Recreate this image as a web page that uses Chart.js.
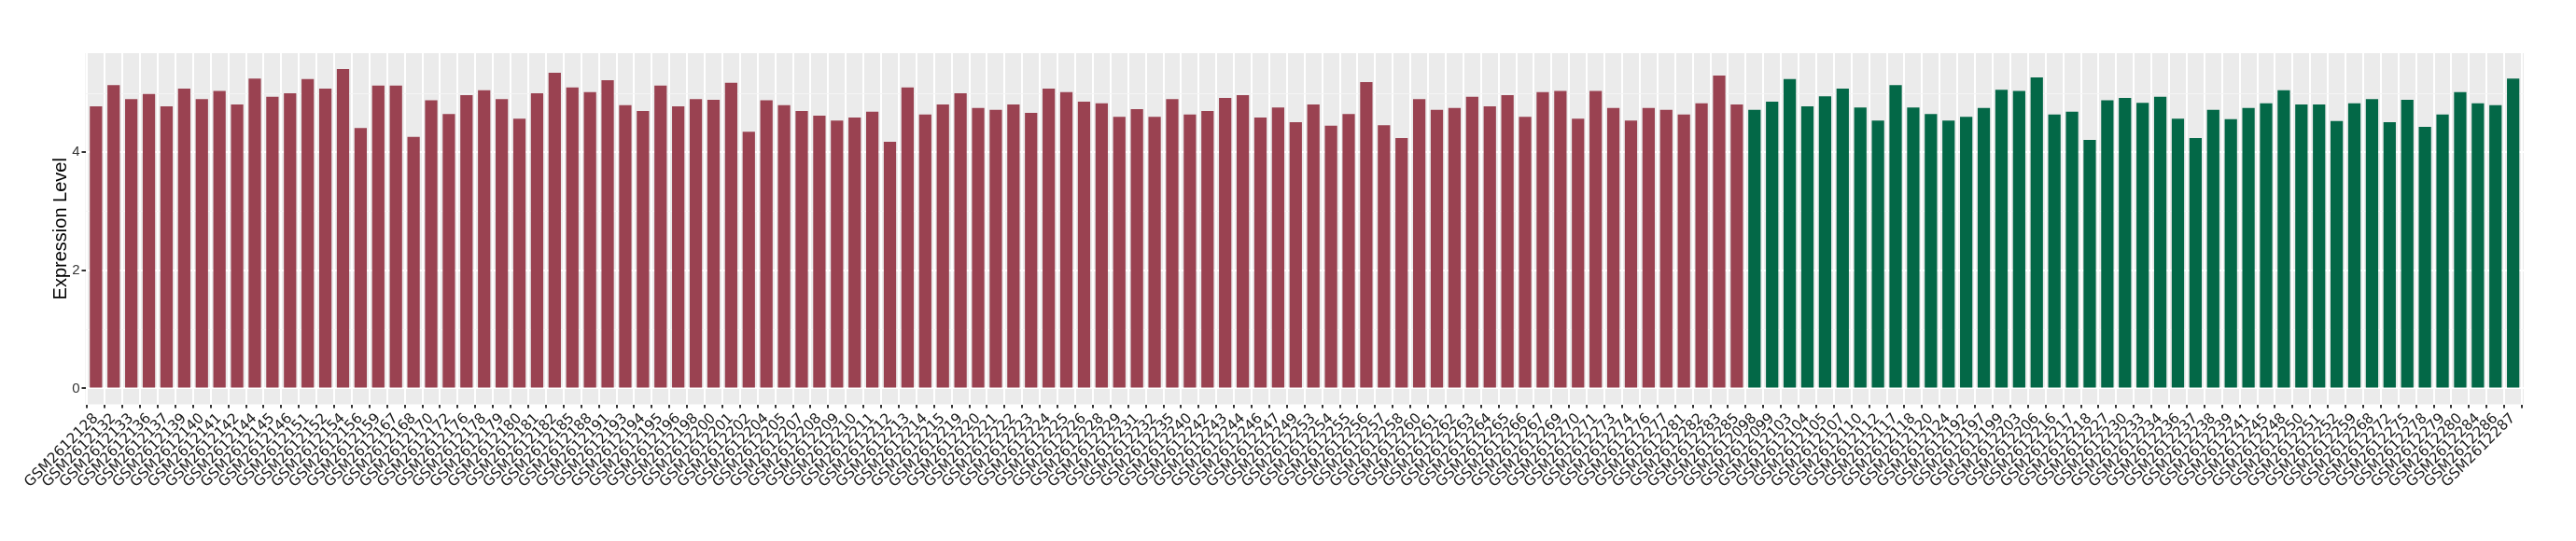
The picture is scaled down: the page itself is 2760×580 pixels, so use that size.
<!DOCTYPE html>
<html>
<head>
<meta charset="utf-8">
<script src="https://cdn.jsdelivr.net/npm/chart.js@4/dist/chart.umd.min.js"></script>
<style>
  html, body { margin: 0; padding: 0; background: #fff; }
  #chart { display: block; }
</style>
</head>
<body>
<canvas id="chart" width="2760" height="580"></canvas>
<script>
// amostras do primeiro grupo (vermelho)
var redSamples = [
  "GSM2612128","GSM2612132","GSM2612133","GSM2612136","GSM2612137","GSM2612139","GSM2612140","GSM2612141",
  "GSM2612142","GSM2612144","GSM2612145","GSM2612146","GSM2612151","GSM2612152","GSM2612154","GSM2612156",
  "GSM2612159","GSM2612167","GSM2612168","GSM2612170","GSM2612172","GSM2612176","GSM2612178","GSM2612179",
  "GSM2612180","GSM2612181","GSM2612182","GSM2612185","GSM2612188","GSM2612191","GSM2612193","GSM2612194",
  "GSM2612195","GSM2612196","GSM2612198","GSM2612200","GSM2612201","GSM2612202","GSM2612204","GSM2612205",
  "GSM2612207","GSM2612208","GSM2612209","GSM2612210","GSM2612211","GSM2612212","GSM2612213","GSM2612214",
  "GSM2612215","GSM2612219","GSM2612220","GSM2612221","GSM2612222","GSM2612223","GSM2612224","GSM2612225",
  "GSM2612226","GSM2612228","GSM2612229","GSM2612231","GSM2612232","GSM2612235","GSM2612240","GSM2612242",
  "GSM2612243","GSM2612244","GSM2612246","GSM2612247","GSM2612249","GSM2612253","GSM2612254","GSM2612255",
  "GSM2612256","GSM2612257","GSM2612258","GSM2612260","GSM2612261","GSM2612262","GSM2612263","GSM2612264",
  "GSM2612265","GSM2612266","GSM2612267","GSM2612269","GSM2612270","GSM2612271","GSM2612273","GSM2612274",
  "GSM2612276","GSM2612277","GSM2612281","GSM2612282","GSM2612283","GSM2612285"
];
var redValues = [
  4.78,5.14,4.90,4.99,4.78,5.08,4.90,5.04,
  4.81,5.25,4.94,5.00,5.24,5.08,5.41,4.41,
  5.13,5.13,4.26,4.88,4.65,4.97,5.05,4.90,
  4.57,5.00,5.35,5.10,5.02,5.22,4.80,4.70,
  5.13,4.78,4.90,4.89,5.18,4.35,4.88,4.80,
  4.70,4.62,4.54,4.59,4.69,4.18,5.10,4.64,
  4.81,5.00,4.75,4.72,4.81,4.67,5.08,5.02,
  4.86,4.83,4.60,4.73,4.60,4.90,4.64,4.70,
  4.92,4.97,4.59,4.76,4.51,4.81,4.45,4.65,
  5.19,4.46,4.24,4.90,4.72,4.75,4.94,4.78,
  4.97,4.60,5.02,5.04,4.57,5.04,4.75,4.54,
  4.75,4.72,4.64,4.83,5.30,4.81
];

// amostras do segundo grupo (verde)
var greenSamples = [
  "GSM2612098","GSM2612099","GSM2612103","GSM2612104","GSM2612105","GSM2612107","GSM2612110","GSM2612112",
  "GSM2612117","GSM2612118","GSM2612120","GSM2612124","GSM2612192","GSM2612197","GSM2612199","GSM2612203",
  "GSM2612206","GSM2612216","GSM2612217","GSM2612218","GSM2612227","GSM2612230","GSM2612233","GSM2612234",
  "GSM2612236","GSM2612237","GSM2612238","GSM2612239","GSM2612241","GSM2612245","GSM2612248","GSM2612250",
  "GSM2612251","GSM2612252","GSM2612259","GSM2612268","GSM2612272","GSM2612275","GSM2612278","GSM2612279",
  "GSM2612280","GSM2612284","GSM2612286","GSM2612287"
];
var greenValues = [
  4.72,4.86,5.24,4.78,4.95,5.08,4.76,4.54,
  5.14,4.76,4.65,4.54,4.60,4.75,5.06,5.04,
  5.27,4.64,4.69,4.21,4.88,4.92,4.84,4.94,
  4.57,4.24,4.72,4.56,4.75,4.83,5.05,4.81,
  4.81,4.53,4.83,4.90,4.51,4.89,4.43,4.64,
  5.02,4.83,4.80,5.25
];

var yTicks = [0, 1, 2, 3, 4, 5];
var yLabeled = [0, 2, 4];

var allSamples = redSamples.concat(greenSamples);

// monta os pontos {x, y} a partir dos arrays
function toPoints(values, start){
  return values.map(function(v, i){ return { x: start + i, y: v }; });
}

// fundo cinza do painel (estilo ggplot)
var panelBg = {
  id: 'panelBg',
  beforeDraw: function(chart){
    var c = chart.ctx, a = chart.chartArea;
    c.save();
    c.fillStyle = '#FFFFFF';
    c.fillRect(0, 0, chart.width, chart.height);
    c.fillStyle = '#EBEBEB';
    c.fillRect(a.left, a.top, a.right - a.left, a.bottom - a.top);
    c.restore();
  }
};

new Chart(document.getElementById('chart'), {
  type: 'bar',
  data: {
    datasets: [{
      label: 'red',
      data: toPoints(redValues, 0),
      backgroundColor: '#9A4251',
      grouped: false,
      barPercentage: 0.7,
      categoryPercentage: 1
    }, {
      label: 'green',
      data: toPoints(greenValues, redValues.length),
      backgroundColor: '#036847',
      grouped: false,
      barPercentage: 0.7,
      categoryPercentage: 1
    }]
  },
  options: {
    responsive: false,
    animation: false,
    layout: { padding: { left: 40, top: 57, right: 56, bottom: 0 } },
    plugins: { legend: { display: false }, tooltip: { enabled: false } },
    scales: {
      x: {
        type: 'linear',
        offset: false,
        min: -0.6,
        max: allSamples.length - 1 + 0.6,
        afterBuildTicks: function(scale){
          scale.ticks = allSamples.map(function(_, i){ return { value: i }; });
        },
        afterFit: function(scale){ scale.height = 146.5; },
        border: { display: false },
        grid: { color: '#FFFFFF', lineWidth: 2, tickColor: '#333333', tickLength: 4, drawTicks: true },
        ticks: {
          autoSkip: false,
          minRotation: 45,
          maxRotation: 45,
          padding: 2,
          color: '#1A1A1A',
          font: { family: 'DejaVu Sans', size: 15.5 },
          callback: function(v){ return allSamples[v]; }
        }
      },
      y: {
        min: -0.27,
        max: 5.68,
        afterBuildTicks: function(scale){
          scale.ticks = yTicks.map(function(v){ return { value: v }; });
        },
        afterFit: function(scale){ scale.width = 51.5; },
        border: { display: false },
        grid: {
          color: function(ctx){ return yLabeled.indexOf(ctx.tick.value) >= 0 ? '#FFFFFF' : '#F5F5F5'; },
          lineWidth: function(ctx){ return yLabeled.indexOf(ctx.tick.value) >= 0 ? 2 : 1; },
          tickColor: function(ctx){ return yLabeled.indexOf(ctx.tick.value) >= 0 ? '#333333' : 'rgba(0,0,0,0)'; },
          tickLength: 4
        },
        ticks: {
          padding: 2,
          color: '#333333',
          font: { family: 'Liberation Sans', size: 15 },
          callback: function(v){ return yLabeled.indexOf(v) >= 0 ? String(v) : ''; }
        },
        title: {
          display: true,
          text: 'Expression Level',
          color: '#000000',
          padding: { top: 13, bottom: 0 },
          font: { family: 'Liberation Sans', size: 20 }
        }
      }
    }
  },
  plugins: [panelBg]
});
</script>
</body>
</html>
